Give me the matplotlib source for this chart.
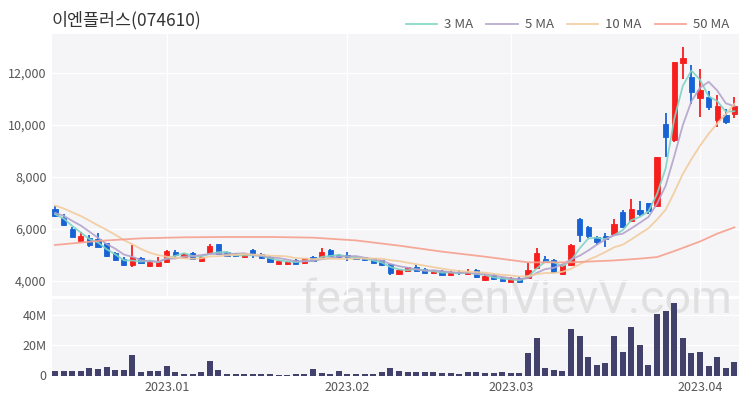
import matplotlib
matplotlib.use('Agg')
import matplotlib.pyplot as plt
from matplotlib.patches import Rectangle
import numpy as np
import pandas as pd

plt.rcParams['font.family'] = ['Noto Sans CJK KR', 'DejaVu Sans']

title = '이엔플러스(074610)'

# daily candles (Dec 2022 - Apr 2023)
opens = [6770, 6410, 5988, 5552, 5641, 5616, 5449, 5064, 4847, 4616,
         4898, 4577, 4577, 4718, 5128, 4923, 5077, 4770, 5064, 5410,
         5103, 5051, 4923, 5192, 5051, 4923, 4667, 4654, 4808, 4680,
         4936, 4911, 5192, 4999, 4999, 4898, 4911, 4872, 4808, 4641,
         4257, 4398, 4551, 4474, 4295, 4398, 4218, 4359, 4270, 4423,
         4039, 4231, 4129, 3975, 4129, 4103, 4487, 4860, 4808, 4270,
         4616, 6385, 6064, 5705, 5731, 5808, 6667, 6321, 6731, 6987,
         6885, 10026, 9423, 12372, 11833, 11026, 11090, 10193, 10372, 10423]
highs = [6885, 6577, 6090, 5898, 5770, 5834, 5449, 5128, 4936, 5385,
         4936, 4808, 4936, 5192, 5192, 5077, 5103, 4962, 5410, 5410,
         5128, 5077, 5077, 5231, 5077, 4949, 4821, 4783, 4834, 4898,
         4962, 5257, 5218, 5051, 5103, 4911, 4936, 4898, 4808, 4641,
         4449, 4551, 4603, 4500, 4423, 4423, 4372, 4423, 4474, 4449,
         4231, 4257, 4167, 4167, 4154, 4680, 5257, 4962, 4834, 4641,
         5410, 6436, 6116, 5744, 5834, 6372, 6731, 7154, 7090, 7013,
         8782, 10475, 12436, 12987, 12308, 12154, 11321, 11154, 10616, 11090]
lows = [6460, 6115, 5680, 5539, 5295, 5295, 4910, 4770, 4590, 4552,
        4654, 4552, 4552, 4680, 4898, 4898, 4821, 4731, 5026, 5000,
        4949, 4923, 4872, 4872, 4847, 4718, 4641, 4629, 4641, 4654,
        4757, 4872, 4949, 4872, 4770, 4834, 4783, 4680, 4590, 4231,
        4231, 4372, 4372, 4295, 4270, 4218, 4193, 4231, 4231, 4103,
        4013, 4039, 3987, 3949, 3923, 4064, 4449, 4706, 4321, 4231,
        4577, 5513, 5641, 5385, 5321, 5770, 6026, 6282, 6500, 6577,
        6859, 8782, 9359, 11757, 10808, 10321, 10577, 9936, 10039, 10257]
closes = [6500, 6150, 5705, 5744, 5385, 5321, 4962, 4808, 4616, 4936,
          4680, 4744, 4744, 5154, 4999, 5051, 4847, 4936, 5359, 5026,
          4975, 4949, 5026, 5000, 4872, 4744, 4770, 4744, 4667, 4872,
          4783, 5128, 4975, 4923, 4923, 4847, 4808, 4706, 4616, 4295,
          4423, 4526, 4398, 4321, 4398, 4244, 4334, 4295, 4359, 4141,
          4205, 4064, 4013, 4103, 3949, 4423, 5064, 4744, 4359, 4603,
          5385, 5770, 5744, 5488, 5603, 6193, 6064, 6757, 6577, 6705,
          8757, 9526, 12410, 12590, 11282, 11346, 10680, 10731, 10128, 10731]
# volume in millions of shares
volumes = [2.8, 3, 3, 2.8, 4.7, 4, 5.6, 3.5, 3.5, 13.9,
           2.1, 3, 2.8, 6.6, 2.5, 1, 1, 2.5, 9.5, 3.5,
           1.2, 1.2, 1.2, 1.2, 0.8, 0.8, 0.5, 0.5, 1.2, 1.2,
           4.5, 1.5, 1, 2.8, 1, 1, 1, 1.2, 2.2, 5,
           2.7, 2.2, 2.2, 2, 2, 1.8, 1.8, 1.1, 2.2, 2.2,
           1.8, 1.6, 2.4, 1.8, 1.6, 15, 25, 5, 3.8, 3.1,
           31, 26, 12, 7, 8.6, 26, 15.5, 32, 20, 7,
           41, 42.7, 48, 25, 15, 15.5, 6.5, 12, 4.7, 8.7]
# closes just before the window (read back from where the MA lines start)
pre_close = [7250, 7200, 7150, 7150, 7150, 6700, 6690, 6650, 6560]
# 50-day MA at these candle positions
ma50_idx = [0, 5, 10, 15, 20, 25, 30, 35, 40, 45, 50, 55, 60, 65, 68, 70, 72, 75, 77, 79]
ma50_val = [5385, 5539, 5641, 5680, 5693, 5693, 5667, 5560, 5360, 5129,
            4936, 4718, 4718, 4790, 4860, 4920, 5150, 5520, 5820, 6064]

month_pos = [13, 34, 53, 75]
month_lbl = ['2023.01', '2023.02', '2023.03', '2023.04']

n = len(closes)
x = np.arange(n)
o = np.array(opens)
c = np.array(closes)
up = c >= o

allc = pd.Series(pre_close + closes)
ma3 = allc.rolling(3).mean().values[-n:]
ma5 = allc.rolling(5).mean().values[-n:]
ma10 = allc.rolling(10).mean().values[-n:]

RED = '#f71e1e'
BLUE = '#1763d6'
BG = '#f5f5f7'

fig = plt.figure(figsize=(7.5, 4), dpi=100)
W, H = 750, 400
def box(l, t, r, b):
    return [l / W, 1 - b / H, (r - l) / W, (b - t) / H]

p_rect = box(52, 34, 739, 296)
v_rect = box(52, 299, 739, 375.5)
for r in (p_rect, v_rect):
    fig.add_artist(Rectangle((r[0], r[1]), r[2], r[3], transform=fig.transFigure,
                             facecolor=BG, edgecolor='none', zorder=-3))

# watermark behind both panels
fig.text(0.689, 0.25, 'feature.enVievV.com', ha='center', va='center', fontsize=33.5,
         color='#e0e0e0', family=['Roboto', 'DejaVu Sans'], zorder=-2)

ax = fig.add_axes(p_rect)
axv = fig.add_axes(v_rect, sharex=ax)

for a in (ax, axv):
    a.patch.set_visible(False)
    for s in a.spines.values():
        s.set_visible(False)
    a.tick_params(length=0, labelsize=9, labelcolor='#555555', pad=4)

# candles
colors = np.where(up, RED, BLUE)
ax.vlines(x, lows, highs, colors=colors, lw=1.3, zorder=3)
body_lo = np.minimum(o, c)
body_h = np.maximum(np.abs(c - o), 25)
ax.bar(x, body_h, bottom=body_lo, width=0.62, color=colors, edgecolor=colors, lw=0.6, zorder=3)

ax.plot(x, ma3, color='#7fd4c4', lw=1.3, alpha=0.9, zorder=4, label='3 MA')
ax.plot(x, ma5, color='#b3a3cc', lw=1.3, alpha=0.9, zorder=4, label='5 MA')
ax.plot(x, ma10, color='#f2cb9c', lw=1.3, alpha=0.9, zorder=4, label='10 MA')
ax.plot(ma50_idx, ma50_val, color='#f5a08e', lw=1.3, alpha=0.9, zorder=4, label='50 MA')

ax.set_ylim(3423, 13500)
ax.set_yticks([4000, 6000, 8000, 10000, 12000])
ax.set_yticklabels(['4,000', '6,000', '8,000', '10,000', '12,000'])
ax.set_xlim(-0.35, 79.53)
ax.set_xticks([16.5, 32, 48.3, 64])
ax.tick_params(axis='x', labelbottom=False)
ax.grid(color='white', lw=1, zorder=0)
ax.set_axisbelow(True)

axv.bar(x, volumes, width=0.7, color='#41416c', zorder=3)
axv.set_ylim(0, 50.7)
axv.set_yticks([0, 20, 40])
axv.set_yticklabels(['0', '20M', '40M'])
axv.yaxis.grid(True, color='white', lw=1)
axv.set_axisbelow(True)
axv.set_xticks(month_pos)
axv.set_xticklabels(month_lbl)

fig.text(52 / W, 1 - 20 / H, title, fontsize=12.5, color='#333333', va='center', ha='left')

fig.legend(loc='center right', bbox_to_anchor=(0.988, 1 - 25 / H), ncol=4, frameon=False,
           fontsize=9.5, handlelength=2.4, columnspacing=1.0, handletextpad=0.5,
           labelcolor='#555555')

fig.savefig('out.png', dpi=100)
